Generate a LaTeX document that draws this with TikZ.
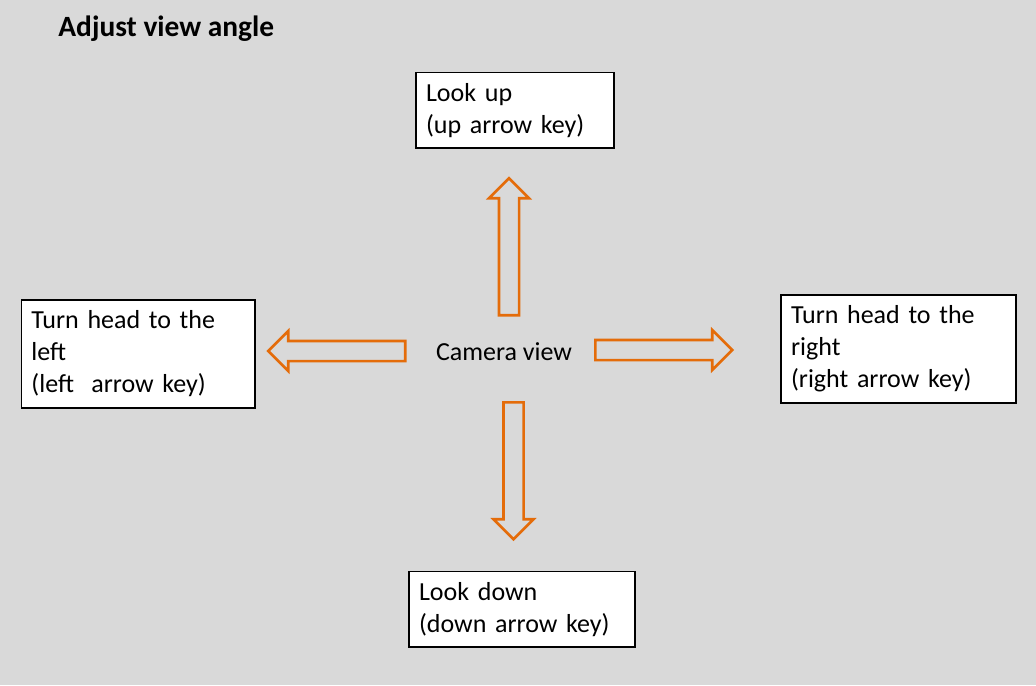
\documentclass[tikz,border=0pt]{standalone}
\usepackage{fontspec}
\setmainfont{Carlito}
\usepackage{tikz}
\usetikzlibrary{shapes.arrows}
\definecolor{bggray}{RGB}{217,217,217}
\definecolor{keyorange}{RGB}{228,108,10}

\begin{document}
\begin{tikzpicture}[x=0.5pt,y=-0.5pt,
  keybox/.style={draw, fill=white, line width=0.75pt, anchor=north west, align=left, inner xsep=5pt, inner ysep=0pt, font=\fontsize{13}{16}\selectfont},
  keyarrow/.style={single arrow, draw=keyorange, line width=1.3pt, minimum height=68.5pt, minimum width=18.75pt, single arrow head extend=5pt, inner xsep=0pt, inner ysep=4.375pt, anchor=tail}]
\fill [bggray] (0,0) rectangle (1036,685);
\node [anchor=base west, inner sep=0pt, font=\bfseries\fontsize{14.7}{17}\selectfont] (title) at (58,36) {Adjust view angle};
\node [anchor=base, font=\fontsize{13}{16}\selectfont] (cam) at (504,360.7) {Camera view};
\node [keybox, text width=89pt, minimum height=37.8pt] (lookup) at (415.3,71.7) {Look up\\(up arrow key)};
\node [keybox, text width=106.8pt, minimum height=53.85pt] (turnleft) at (20.7,299.3) {Turn head to the\\left\\(left~ arrow key)};
\node [keybox, text width=107.35pt, minimum height=54pt] (turnright) at (780.3,294.3) {Turn head to the\\right\\(right arrow key)};
\node [keybox, text width=102.85pt, minimum height=37.65pt] (lookdown) at (408.3,570.7) {Look down\\(down arrow key)};
\node [keyarrow, rotate=90] (arrup) at (509,316.5) {};
\node [keyarrow, rotate=180] (arrleft) at (406.5,351) {};
\node [keyarrow] (arrright) at (594,350) {};
\node [keyarrow, rotate=-90] (arrdown) at (513.5,401) {};
\end{tikzpicture}
\end{document}
